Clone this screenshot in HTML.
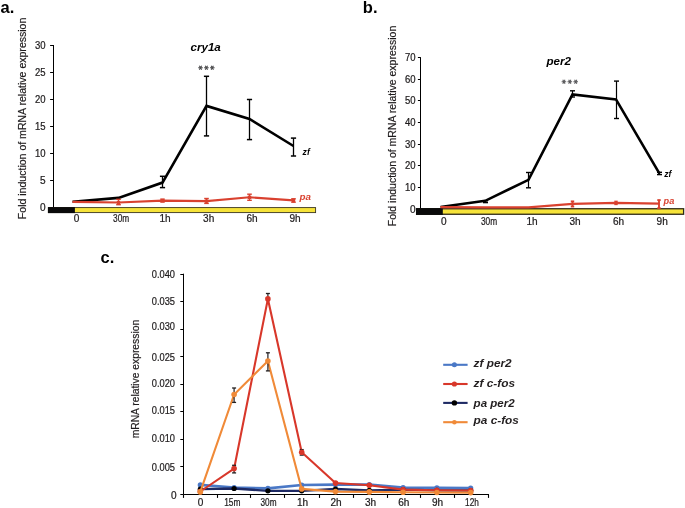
<!DOCTYPE html>
<html><head><meta charset="utf-8"><style>
html,body{margin:0;padding:0;background:#fff;}
body{width:685px;height:508px;overflow:hidden;}
svg{display:block;font-family:"Liberation Sans", sans-serif;will-change:transform;}
</style></head><body>
<svg width="685" height="508" viewBox="0 0 685 508">
<text x="0.5" y="12.7" font-size="16.5" text-anchor="start" font-weight="bold" fill="#000">a.</text>
<text transform="translate(26.2,118.4) rotate(-90)" font-size="10.05" text-anchor="middle" fill="#1e1b1c" stroke="#1e1b1c" stroke-width="0.18" textLength="201.5" lengthAdjust="spacingAndGlyphs">Fold induction of mRNA relative expression</text>
<line x1="53.50" y1="45.00" x2="53.50" y2="207.60" stroke="#000" stroke-width="1"/>
<line x1="50.10" y1="207.50" x2="53.50" y2="207.50" stroke="#000" stroke-width="1"/>
<text x="45.5" y="211.0" font-size="10.05" text-anchor="end" fill="#1e1b1c" stroke="#1e1b1c" stroke-width="0.22">0</text>
<line x1="50.10" y1="180.50" x2="53.50" y2="180.50" stroke="#000" stroke-width="1"/>
<text x="45.5" y="184.0" font-size="10.05" text-anchor="end" fill="#1e1b1c" stroke="#1e1b1c" stroke-width="0.22">5</text>
<line x1="50.10" y1="153.50" x2="53.50" y2="153.50" stroke="#000" stroke-width="1"/>
<text x="45.5" y="157.0" font-size="10.05" text-anchor="end" fill="#1e1b1c" stroke="#1e1b1c" stroke-width="0.22" textLength="10.6" lengthAdjust="spacingAndGlyphs">10</text>
<line x1="50.10" y1="126.50" x2="53.50" y2="126.50" stroke="#000" stroke-width="1"/>
<text x="45.5" y="130.0" font-size="10.05" text-anchor="end" fill="#1e1b1c" stroke="#1e1b1c" stroke-width="0.22" textLength="10.6" lengthAdjust="spacingAndGlyphs">15</text>
<line x1="50.10" y1="99.50" x2="53.50" y2="99.50" stroke="#000" stroke-width="1"/>
<text x="45.5" y="103.0" font-size="10.05" text-anchor="end" fill="#1e1b1c" stroke="#1e1b1c" stroke-width="0.22" textLength="10.6" lengthAdjust="spacingAndGlyphs">20</text>
<line x1="50.10" y1="72.50" x2="53.50" y2="72.50" stroke="#000" stroke-width="1"/>
<text x="45.5" y="76.0" font-size="10.05" text-anchor="end" fill="#1e1b1c" stroke="#1e1b1c" stroke-width="0.22" textLength="10.6" lengthAdjust="spacingAndGlyphs">25</text>
<line x1="50.10" y1="45.50" x2="53.50" y2="45.50" stroke="#000" stroke-width="1"/>
<text x="45.5" y="49.0" font-size="10.05" text-anchor="end" fill="#1e1b1c" stroke="#1e1b1c" stroke-width="0.22" textLength="10.6" lengthAdjust="spacingAndGlyphs">30</text>
<rect x="48.3" y="207.6" width="267.3" height="5.0" fill="#f6e33a" stroke="#3a3520" stroke-width="0.9"/>
<rect x="48" y="207.1" width="26.9" height="6" fill="#0a0a0a"/>
<text x="76.5" y="221.9" font-size="10.05" text-anchor="middle" fill="#1e1b1c" stroke="#1e1b1c" stroke-width="0.22">0</text>
<text x="121.1" y="221.9" font-size="10.05" text-anchor="middle" fill="#1e1b1c" stroke="#1e1b1c" stroke-width="0.22" textLength="16.2" lengthAdjust="spacingAndGlyphs">30m</text>
<text x="165.0" y="221.9" font-size="10.05" text-anchor="middle" fill="#1e1b1c" stroke="#1e1b1c" stroke-width="0.22">1h</text>
<text x="208.7" y="221.9" font-size="10.05" text-anchor="middle" fill="#1e1b1c" stroke="#1e1b1c" stroke-width="0.22">3h</text>
<text x="252.0" y="221.9" font-size="10.05" text-anchor="middle" fill="#1e1b1c" stroke="#1e1b1c" stroke-width="0.22">6h</text>
<text x="295.0" y="221.9" font-size="10.05" text-anchor="middle" fill="#1e1b1c" stroke="#1e1b1c" stroke-width="0.22">9h</text>
<polyline points="72.50,201.80 118.50,197.90 162.50,182.60 206.50,105.90 249.50,119.00 293.50,146.00" fill="none" stroke="#000" stroke-width="2.6" stroke-linejoin="miter" />
<polyline points="72.50,201.90 118.50,202.50 162.50,200.60 206.50,201.10 249.50,197.30 293.50,200.40" fill="none" stroke="#d9412f" stroke-width="2.1" stroke-linejoin="miter" />
<line x1="118.50" y1="199.30" x2="118.50" y2="204.70" stroke="#d9412f" stroke-width="1.3"/>
<line x1="116.20" y1="199.30" x2="120.80" y2="199.30" stroke="#d9412f" stroke-width="1.4"/>
<line x1="116.20" y1="204.70" x2="120.80" y2="204.70" stroke="#d9412f" stroke-width="1.4"/>
<line x1="206.50" y1="198.50" x2="206.50" y2="203.40" stroke="#d9412f" stroke-width="1.3"/>
<line x1="204.20" y1="198.50" x2="208.80" y2="198.50" stroke="#d9412f" stroke-width="1.4"/>
<line x1="204.20" y1="203.40" x2="208.80" y2="203.40" stroke="#d9412f" stroke-width="1.4"/>
<line x1="249.50" y1="194.20" x2="249.50" y2="200.30" stroke="#d9412f" stroke-width="1.3"/>
<line x1="247.20" y1="194.20" x2="251.80" y2="194.20" stroke="#d9412f" stroke-width="1.4"/>
<line x1="247.20" y1="200.30" x2="251.80" y2="200.30" stroke="#d9412f" stroke-width="1.4"/>
<line x1="293.50" y1="198.80" x2="293.50" y2="202.20" stroke="#d9412f" stroke-width="1.3"/>
<line x1="291.20" y1="198.80" x2="295.80" y2="198.80" stroke="#d9412f" stroke-width="1.4"/>
<line x1="291.20" y1="202.20" x2="295.80" y2="202.20" stroke="#d9412f" stroke-width="1.4"/>
<rect x="116.80" y="200.80" width="3.4" height="3.4" fill="#d9412f"/>
<rect x="160.30" y="198.40" width="4.4" height="4.4" fill="#d9412f"/>
<rect x="204.80" y="199.40" width="3.4" height="3.4" fill="#d9412f"/>
<rect x="247.80" y="195.60" width="3.4" height="3.4" fill="#d9412f"/>
<rect x="291.80" y="198.70" width="3.4" height="3.4" fill="#d9412f"/>
<line x1="162.50" y1="176.30" x2="162.50" y2="187.60" stroke="#000" stroke-width="1.3"/>
<line x1="159.90" y1="176.30" x2="165.10" y2="176.30" stroke="#000" stroke-width="1.5"/>
<line x1="159.90" y1="187.60" x2="165.10" y2="187.60" stroke="#000" stroke-width="1.5"/>
<line x1="206.50" y1="76.30" x2="206.50" y2="135.90" stroke="#000" stroke-width="1.3"/>
<line x1="203.90" y1="76.30" x2="209.10" y2="76.30" stroke="#000" stroke-width="1.5"/>
<line x1="203.90" y1="135.90" x2="209.10" y2="135.90" stroke="#000" stroke-width="1.5"/>
<line x1="249.50" y1="99.50" x2="249.50" y2="139.60" stroke="#000" stroke-width="1.3"/>
<line x1="246.90" y1="99.50" x2="252.10" y2="99.50" stroke="#000" stroke-width="1.5"/>
<line x1="246.90" y1="139.60" x2="252.10" y2="139.60" stroke="#000" stroke-width="1.5"/>
<line x1="293.50" y1="138.10" x2="293.50" y2="156.00" stroke="#000" stroke-width="1.3"/>
<line x1="290.90" y1="138.10" x2="296.10" y2="138.10" stroke="#000" stroke-width="1.5"/>
<line x1="290.90" y1="156.00" x2="296.10" y2="156.00" stroke="#000" stroke-width="1.5"/>
<text x="190.5" y="50.8" font-size="11.6" text-anchor="start" font-weight="bold" font-style="italic" fill="#000">cry1a</text>
<path d="M198.20,67.70L202.80,67.70M199.35,65.71L201.65,69.69M201.65,65.71L199.35,69.69" stroke="#4d4d4f" stroke-width="1.1" fill="none"/>
<path d="M204.10,67.70L208.70,67.70M205.25,65.71L207.55,69.69M207.55,65.71L205.25,69.69" stroke="#4d4d4f" stroke-width="1.1" fill="none"/>
<path d="M210.00,67.70L214.60,67.70M211.15,65.71L213.45,69.69M213.45,65.71L211.15,69.69" stroke="#4d4d4f" stroke-width="1.1" fill="none"/>
<text x="302.6" y="155.3" font-size="8.6" text-anchor="start" font-weight="bold" font-style="italic" fill="#000">zf</text>
<text x="299.5" y="199.6" font-size="9.8" text-anchor="start" font-weight="bold" font-style="italic" fill="#d9412f">pa</text>
<text x="362.8" y="12.8" font-size="16.5" text-anchor="start" font-weight="bold" fill="#000">b.</text>
<text transform="translate(395.6,126) rotate(-90)" font-size="10.05" text-anchor="middle" fill="#1e1b1c" stroke="#1e1b1c" stroke-width="0.18" textLength="200.5" lengthAdjust="spacingAndGlyphs">Fold induction of mRNA relative expression</text>
<line x1="420.50" y1="57.20" x2="420.50" y2="209.30" stroke="#000" stroke-width="1"/>
<line x1="417.90" y1="209.50" x2="420.50" y2="209.50" stroke="#000" stroke-width="1"/>
<text x="415.6" y="213.0" font-size="10.05" text-anchor="end" fill="#1e1b1c" stroke="#1e1b1c" stroke-width="0.22">0</text>
<line x1="417.90" y1="187.50" x2="420.50" y2="187.50" stroke="#000" stroke-width="1"/>
<text x="415.6" y="191.0" font-size="10.05" text-anchor="end" fill="#1e1b1c" stroke="#1e1b1c" stroke-width="0.22" textLength="10.6" lengthAdjust="spacingAndGlyphs">10</text>
<line x1="417.90" y1="165.50" x2="420.50" y2="165.50" stroke="#000" stroke-width="1"/>
<text x="415.6" y="169.0" font-size="10.05" text-anchor="end" fill="#1e1b1c" stroke="#1e1b1c" stroke-width="0.22" textLength="10.6" lengthAdjust="spacingAndGlyphs">20</text>
<line x1="417.90" y1="144.50" x2="420.50" y2="144.50" stroke="#000" stroke-width="1"/>
<text x="415.6" y="148.0" font-size="10.05" text-anchor="end" fill="#1e1b1c" stroke="#1e1b1c" stroke-width="0.22" textLength="10.6" lengthAdjust="spacingAndGlyphs">30</text>
<line x1="417.90" y1="122.50" x2="420.50" y2="122.50" stroke="#000" stroke-width="1"/>
<text x="415.6" y="126.0" font-size="10.05" text-anchor="end" fill="#1e1b1c" stroke="#1e1b1c" stroke-width="0.22" textLength="10.6" lengthAdjust="spacingAndGlyphs">40</text>
<line x1="417.90" y1="100.50" x2="420.50" y2="100.50" stroke="#000" stroke-width="1"/>
<text x="415.6" y="104.0" font-size="10.05" text-anchor="end" fill="#1e1b1c" stroke="#1e1b1c" stroke-width="0.22" textLength="10.6" lengthAdjust="spacingAndGlyphs">50</text>
<line x1="417.90" y1="79.50" x2="420.50" y2="79.50" stroke="#000" stroke-width="1"/>
<text x="415.6" y="83.0" font-size="10.05" text-anchor="end" fill="#1e1b1c" stroke="#1e1b1c" stroke-width="0.22" textLength="10.6" lengthAdjust="spacingAndGlyphs">60</text>
<line x1="417.90" y1="57.50" x2="420.50" y2="57.50" stroke="#000" stroke-width="1"/>
<text x="415.6" y="61.0" font-size="10.05" text-anchor="end" fill="#1e1b1c" stroke="#1e1b1c" stroke-width="0.22" textLength="10.6" lengthAdjust="spacingAndGlyphs">70</text>
<rect x="416.6" y="208.75" width="267.0" height="5.5" fill="#f6e33a" stroke="#2e2a18" stroke-width="1.3"/>
<rect x="416.0" y="208.1" width="26.8" height="6.8" fill="#0a0a0a"/>
<text x="443.8" y="224.6" font-size="10.05" text-anchor="middle" fill="#1e1b1c" stroke="#1e1b1c" stroke-width="0.22">0</text>
<text x="489.0" y="224.6" font-size="10.05" text-anchor="middle" fill="#1e1b1c" stroke="#1e1b1c" stroke-width="0.22" textLength="16.2" lengthAdjust="spacingAndGlyphs">30m</text>
<text x="532.0" y="224.6" font-size="10.05" text-anchor="middle" fill="#1e1b1c" stroke="#1e1b1c" stroke-width="0.22">1h</text>
<text x="575.0" y="224.6" font-size="10.05" text-anchor="middle" fill="#1e1b1c" stroke="#1e1b1c" stroke-width="0.22">3h</text>
<text x="618.6" y="224.6" font-size="10.05" text-anchor="middle" fill="#1e1b1c" stroke="#1e1b1c" stroke-width="0.22">6h</text>
<text x="662.2" y="224.6" font-size="10.05" text-anchor="middle" fill="#1e1b1c" stroke="#1e1b1c" stroke-width="0.22">9h</text>
<polyline points="440.50,207.00 485.20,200.80 528.50,179.80 572.50,94.40 616.00,99.40 659.50,173.60" fill="none" stroke="#000" stroke-width="2.6" stroke-linejoin="miter" />
<polyline points="440.50,207.20 485.20,207.30 528.50,207.30 572.50,203.80 616.00,202.90 659.50,203.60" fill="none" stroke="#d9412f" stroke-width="2.3" stroke-linejoin="miter" />
<line x1="572.50" y1="201.40" x2="572.50" y2="206.50" stroke="#d9412f" stroke-width="1.9"/>
<line x1="570.80" y1="201.40" x2="574.20" y2="201.40" stroke="#d9412f" stroke-width="1.9"/>
<line x1="570.80" y1="206.50" x2="574.20" y2="206.50" stroke="#d9412f" stroke-width="1.9"/>
<line x1="616.00" y1="201.60" x2="616.00" y2="204.20" stroke="#d9412f" stroke-width="1.9"/>
<line x1="614.30" y1="201.60" x2="617.70" y2="201.60" stroke="#d9412f" stroke-width="1.9"/>
<line x1="614.30" y1="204.20" x2="617.70" y2="204.20" stroke="#d9412f" stroke-width="1.9"/>
<line x1="659.00" y1="200.10" x2="659.00" y2="208.20" stroke="#d9412f" stroke-width="1.9"/>
<line x1="657.30" y1="200.10" x2="660.70" y2="200.10" stroke="#d9412f" stroke-width="1.9"/>
<line x1="657.30" y1="208.20" x2="660.70" y2="208.20" stroke="#d9412f" stroke-width="1.9"/>
<line x1="485.50" y1="200.80" x2="485.50" y2="202.60" stroke="#000" stroke-width="1.2"/>
<line x1="483.00" y1="200.80" x2="488.00" y2="200.80" stroke="#000" stroke-width="1.4"/>
<line x1="483.00" y1="202.60" x2="488.00" y2="202.60" stroke="#000" stroke-width="1.4"/>
<line x1="528.50" y1="172.50" x2="528.50" y2="187.80" stroke="#000" stroke-width="1.2"/>
<line x1="526.00" y1="172.50" x2="531.00" y2="172.50" stroke="#000" stroke-width="1.4"/>
<line x1="526.00" y1="187.80" x2="531.00" y2="187.80" stroke="#000" stroke-width="1.4"/>
<line x1="572.50" y1="90.80" x2="572.50" y2="97.00" stroke="#000" stroke-width="1.2"/>
<line x1="570.00" y1="90.80" x2="575.00" y2="90.80" stroke="#000" stroke-width="1.4"/>
<line x1="570.00" y1="97.00" x2="575.00" y2="97.00" stroke="#000" stroke-width="1.4"/>
<line x1="616.50" y1="81.10" x2="616.50" y2="118.50" stroke="#000" stroke-width="1.2"/>
<line x1="614.00" y1="81.10" x2="619.00" y2="81.10" stroke="#000" stroke-width="1.4"/>
<line x1="614.00" y1="118.50" x2="619.00" y2="118.50" stroke="#000" stroke-width="1.4"/>
<line x1="659.50" y1="172.30" x2="659.50" y2="174.60" stroke="#000" stroke-width="1.2"/>
<line x1="657.00" y1="172.30" x2="662.00" y2="172.30" stroke="#000" stroke-width="1.4"/>
<line x1="657.00" y1="174.60" x2="662.00" y2="174.60" stroke="#000" stroke-width="1.4"/>
<text x="546.5" y="64.6" font-size="11.6" text-anchor="start" font-weight="bold" font-style="italic" fill="#000">per2</text>
<path d="M561.60,81.80L566.20,81.80M562.75,79.81L565.05,83.79M565.05,79.81L562.75,83.79" stroke="#5a5a5c" stroke-width="1.05" fill="none"/>
<path d="M567.50,81.80L572.10,81.80M568.65,79.81L570.95,83.79M570.95,79.81L568.65,83.79" stroke="#5a5a5c" stroke-width="1.05" fill="none"/>
<path d="M573.40,81.80L578.00,81.80M574.55,79.81L576.85,83.79M576.85,79.81L574.55,83.79" stroke="#5a5a5c" stroke-width="1.05" fill="none"/>
<text x="664.2" y="176.8" font-size="8.6" text-anchor="start" font-weight="bold" font-style="italic" fill="#000">zf</text>
<text x="663.6" y="203.9" font-size="9.2" text-anchor="start" font-weight="bold" font-style="italic" fill="#d9412f">pa</text>
<text x="100.5" y="262.6" font-size="16.5" text-anchor="start" font-weight="bold" fill="#000">c.</text>
<text transform="translate(138.9,379.1) rotate(-90)" font-size="10.1" text-anchor="middle" fill="#1e1b1c" stroke="#1e1b1c" stroke-width="0.18" textLength="118.5" lengthAdjust="spacingAndGlyphs">mRNA relative expression</text>
<line x1="183.50" y1="273.70" x2="183.50" y2="494.50" stroke="#000" stroke-width="1"/>
<line x1="183.50" y1="494.50" x2="489.00" y2="494.50" stroke="#000" stroke-width="1"/>
<line x1="180.30" y1="494.50" x2="183.50" y2="494.50" stroke="#000" stroke-width="1"/>
<text x="176.6" y="498.6" font-size="10.05" text-anchor="end" fill="#1e1b1c" stroke="#1e1b1c" stroke-width="0.22">0</text>
<line x1="180.30" y1="466.50" x2="183.50" y2="466.50" stroke="#000" stroke-width="1"/>
<text x="175.0" y="471.4" font-size="10.05" text-anchor="end" fill="#1e1b1c" stroke="#1e1b1c" stroke-width="0.22" textLength="23.2" lengthAdjust="spacingAndGlyphs">0.005</text>
<line x1="180.30" y1="439.50" x2="183.50" y2="439.50" stroke="#000" stroke-width="1"/>
<text x="175.0" y="442.0" font-size="10.05" text-anchor="end" fill="#1e1b1c" stroke="#1e1b1c" stroke-width="0.22" textLength="23.2" lengthAdjust="spacingAndGlyphs">0.010</text>
<line x1="180.30" y1="411.50" x2="183.50" y2="411.50" stroke="#000" stroke-width="1"/>
<text x="175.0" y="414.0" font-size="10.05" text-anchor="end" fill="#1e1b1c" stroke="#1e1b1c" stroke-width="0.22" textLength="23.2" lengthAdjust="spacingAndGlyphs">0.015</text>
<line x1="180.30" y1="384.50" x2="183.50" y2="384.50" stroke="#000" stroke-width="1"/>
<text x="175.0" y="386.7" font-size="10.05" text-anchor="end" fill="#1e1b1c" stroke="#1e1b1c" stroke-width="0.22" textLength="23.2" lengthAdjust="spacingAndGlyphs">0.020</text>
<line x1="180.30" y1="356.50" x2="183.50" y2="356.50" stroke="#000" stroke-width="1"/>
<text x="175.0" y="360.5" font-size="10.05" text-anchor="end" fill="#1e1b1c" stroke="#1e1b1c" stroke-width="0.22" textLength="23.2" lengthAdjust="spacingAndGlyphs">0.025</text>
<line x1="180.30" y1="329.50" x2="183.50" y2="329.50" stroke="#000" stroke-width="1"/>
<text x="175.0" y="330.4" font-size="10.05" text-anchor="end" fill="#1e1b1c" stroke="#1e1b1c" stroke-width="0.22" textLength="23.2" lengthAdjust="spacingAndGlyphs">0.030</text>
<line x1="180.30" y1="301.50" x2="183.50" y2="301.50" stroke="#000" stroke-width="1"/>
<text x="175.0" y="304.9" font-size="10.05" text-anchor="end" fill="#1e1b1c" stroke="#1e1b1c" stroke-width="0.22" textLength="23.2" lengthAdjust="spacingAndGlyphs">0.035</text>
<line x1="180.30" y1="274.50" x2="183.50" y2="274.50" stroke="#000" stroke-width="1"/>
<text x="175.0" y="278.4" font-size="10.05" text-anchor="end" fill="#1e1b1c" stroke="#1e1b1c" stroke-width="0.22" textLength="23.2" lengthAdjust="spacingAndGlyphs">0.040</text>
<line x1="183.50" y1="494.50" x2="183.50" y2="497.90" stroke="#000" stroke-width="1.1"/>
<line x1="217.50" y1="494.50" x2="217.50" y2="497.90" stroke="#000" stroke-width="1.1"/>
<line x1="250.50" y1="494.50" x2="250.50" y2="497.90" stroke="#000" stroke-width="1.1"/>
<line x1="284.50" y1="494.50" x2="284.50" y2="497.90" stroke="#000" stroke-width="1.1"/>
<line x1="319.50" y1="494.50" x2="319.50" y2="497.90" stroke="#000" stroke-width="1.1"/>
<line x1="353.50" y1="494.50" x2="353.50" y2="497.90" stroke="#000" stroke-width="1.1"/>
<line x1="387.50" y1="494.50" x2="387.50" y2="497.90" stroke="#000" stroke-width="1.1"/>
<line x1="420.50" y1="494.50" x2="420.50" y2="497.90" stroke="#000" stroke-width="1.1"/>
<line x1="454.50" y1="494.50" x2="454.50" y2="497.90" stroke="#000" stroke-width="1.1"/>
<line x1="488.50" y1="494.50" x2="488.50" y2="497.90" stroke="#000" stroke-width="1.1"/>
<text x="200.5" y="506.4" font-size="10.05" text-anchor="middle" fill="#1e1b1c" stroke="#1e1b1c" stroke-width="0.22">0</text>
<text x="232.3" y="506.4" font-size="10.05" text-anchor="middle" fill="#1e1b1c" stroke="#1e1b1c" stroke-width="0.22" textLength="16.3" lengthAdjust="spacingAndGlyphs">15m</text>
<text x="268.5" y="506.4" font-size="10.05" text-anchor="middle" fill="#1e1b1c" stroke="#1e1b1c" stroke-width="0.22" textLength="16.0" lengthAdjust="spacingAndGlyphs">30m</text>
<text x="302.6" y="506.4" font-size="10.05" text-anchor="middle" fill="#1e1b1c" stroke="#1e1b1c" stroke-width="0.22">1h</text>
<text x="336.1" y="506.4" font-size="10.05" text-anchor="middle" fill="#1e1b1c" stroke="#1e1b1c" stroke-width="0.22">2h</text>
<text x="370.5" y="506.4" font-size="10.05" text-anchor="middle" fill="#1e1b1c" stroke="#1e1b1c" stroke-width="0.22">3h</text>
<text x="403.8" y="506.4" font-size="10.05" text-anchor="middle" fill="#1e1b1c" stroke="#1e1b1c" stroke-width="0.22">6h</text>
<text x="437.6" y="506.4" font-size="10.05" text-anchor="middle" fill="#1e1b1c" stroke="#1e1b1c" stroke-width="0.22">9h</text>
<text x="472.0" y="506.4" font-size="10.05" text-anchor="middle" fill="#1e1b1c" stroke="#1e1b1c" stroke-width="0.22" textLength="13.8" lengthAdjust="spacingAndGlyphs">12h</text>
<polyline points="200.30,484.90 234.10,487.50 267.90,488.40 301.70,485.00 335.50,484.70 369.30,484.50 403.10,487.50 436.90,487.90 470.70,488.10" fill="none" stroke="#4a78c6" stroke-width="2.7" stroke-linejoin="miter" />
<circle cx="200.30" cy="484.90" r="2.6" fill="#4a78c6"/>
<circle cx="234.10" cy="487.50" r="2.6" fill="#4a78c6"/>
<circle cx="267.90" cy="488.40" r="2.6" fill="#4a78c6"/>
<circle cx="301.70" cy="485.00" r="2.6" fill="#4a78c6"/>
<circle cx="335.50" cy="484.70" r="2.6" fill="#4a78c6"/>
<circle cx="369.30" cy="484.50" r="2.6" fill="#4a78c6"/>
<circle cx="403.10" cy="487.50" r="2.6" fill="#4a78c6"/>
<circle cx="436.90" cy="487.90" r="2.6" fill="#4a78c6"/>
<circle cx="470.70" cy="488.10" r="2.6" fill="#4a78c6"/>
<polyline points="200.30,489.20 234.10,488.50 267.90,490.80 301.70,490.80 335.50,489.00 369.30,490.30 403.10,489.60 436.90,490.30 470.70,490.50" fill="none" stroke="#1e2a64" stroke-width="2.3" stroke-linejoin="miter" />
<circle cx="200.30" cy="489.20" r="2.6" fill="#000"/>
<circle cx="234.10" cy="488.50" r="2.6" fill="#000"/>
<circle cx="267.90" cy="490.80" r="2.6" fill="#000"/>
<circle cx="301.70" cy="490.80" r="2.6" fill="#000"/>
<circle cx="335.50" cy="489.00" r="2.6" fill="#000"/>
<circle cx="369.30" cy="490.30" r="2.6" fill="#000"/>
<circle cx="403.10" cy="489.60" r="2.6" fill="#000"/>
<circle cx="436.90" cy="490.30" r="2.6" fill="#000"/>
<circle cx="470.70" cy="490.50" r="2.6" fill="#000"/>
<polyline points="200.30,491.50 234.10,468.60 267.90,298.90 301.70,452.30 335.50,483.10 369.30,485.30 403.10,489.60 436.90,490.30 470.70,490.50" fill="none" stroke="#d8372a" stroke-width="2.1" stroke-linejoin="miter" />
<line x1="234.10" y1="465.30" x2="234.10" y2="472.90" stroke="#231f20" stroke-width="1.2"/>
<line x1="232.10" y1="465.30" x2="236.10" y2="465.30" stroke="#231f20" stroke-width="1.3"/>
<line x1="232.10" y1="472.90" x2="236.10" y2="472.90" stroke="#231f20" stroke-width="1.3"/>
<line x1="267.90" y1="293.50" x2="267.90" y2="298.90" stroke="#231f20" stroke-width="1.2"/>
<line x1="265.90" y1="293.50" x2="269.90" y2="293.50" stroke="#231f20" stroke-width="1.3"/>
<line x1="301.70" y1="449.60" x2="301.70" y2="455.10" stroke="#231f20" stroke-width="1.2"/>
<line x1="299.70" y1="449.60" x2="303.70" y2="449.60" stroke="#231f20" stroke-width="1.3"/>
<line x1="299.70" y1="455.10" x2="303.70" y2="455.10" stroke="#231f20" stroke-width="1.3"/>
<circle cx="200.30" cy="491.50" r="2.8" fill="#d8372a"/>
<circle cx="234.10" cy="468.60" r="2.8" fill="#d8372a"/>
<circle cx="267.90" cy="298.90" r="2.8" fill="#d8372a"/>
<circle cx="301.70" cy="452.30" r="2.8" fill="#d8372a"/>
<circle cx="335.50" cy="483.10" r="2.8" fill="#d8372a"/>
<circle cx="369.30" cy="485.30" r="2.8" fill="#d8372a"/>
<circle cx="403.10" cy="489.60" r="2.8" fill="#d8372a"/>
<circle cx="436.90" cy="490.30" r="2.8" fill="#d8372a"/>
<circle cx="470.70" cy="490.50" r="2.8" fill="#d8372a"/>
<polyline points="200.30,491.90 234.10,394.50 267.90,361.00 301.70,488.90 335.50,491.60 369.30,491.90 403.10,492.20 436.90,492.50 470.70,492.60" fill="none" stroke="#f08a38" stroke-width="2.1" stroke-linejoin="miter" />
<line x1="234.10" y1="388.00" x2="234.10" y2="402.40" stroke="#231f20" stroke-width="1.2"/>
<line x1="232.10" y1="388.00" x2="236.10" y2="388.00" stroke="#231f20" stroke-width="1.3"/>
<line x1="232.10" y1="402.40" x2="236.10" y2="402.40" stroke="#231f20" stroke-width="1.3"/>
<line x1="267.90" y1="352.80" x2="267.90" y2="370.90" stroke="#231f20" stroke-width="1.2"/>
<line x1="265.90" y1="352.80" x2="269.90" y2="352.80" stroke="#231f20" stroke-width="1.3"/>
<line x1="265.90" y1="370.90" x2="269.90" y2="370.90" stroke="#231f20" stroke-width="1.3"/>
<circle cx="200.30" cy="491.90" r="2.8" fill="#f08a38"/>
<circle cx="234.10" cy="394.50" r="2.8" fill="#f08a38"/>
<circle cx="267.90" cy="361.00" r="2.8" fill="#f08a38"/>
<circle cx="301.70" cy="488.90" r="2.8" fill="#f08a38"/>
<circle cx="335.50" cy="491.60" r="2.8" fill="#f08a38"/>
<circle cx="369.30" cy="491.90" r="2.8" fill="#f08a38"/>
<circle cx="403.10" cy="492.20" r="2.8" fill="#f08a38"/>
<circle cx="436.90" cy="492.50" r="2.8" fill="#f08a38"/>
<circle cx="470.70" cy="492.60" r="2.8" fill="#f08a38"/>
<line x1="443.20" y1="364.80" x2="467.60" y2="364.80" stroke="#4a78c6" stroke-width="2.1"/>
<circle cx="454.4" cy="364.80" r="2.5" fill="#4a78c6"/>
<text x="473.6" y="366.8" font-size="11.2" text-anchor="start" font-weight="bold" font-style="italic" fill="#231f20" textLength="38.0" lengthAdjust="spacingAndGlyphs">zf per2</text>
<line x1="443.20" y1="384.00" x2="467.60" y2="384.00" stroke="#d8372a" stroke-width="2.1"/>
<circle cx="454.4" cy="384.00" r="2.6" fill="#d8372a"/>
<text x="473.6" y="387.3" font-size="11.2" text-anchor="start" font-weight="bold" font-style="italic" fill="#231f20" textLength="41.5" lengthAdjust="spacingAndGlyphs">zf c-fos</text>
<line x1="443.20" y1="402.90" x2="467.60" y2="402.90" stroke="#1e2a64" stroke-width="2.1"/>
<circle cx="454.4" cy="402.90" r="2.7" fill="#000"/>
<text x="473.6" y="406.7" font-size="11.2" text-anchor="start" font-weight="bold" font-style="italic" fill="#231f20" textLength="41.0" lengthAdjust="spacingAndGlyphs">pa per2</text>
<line x1="443.20" y1="422.20" x2="467.60" y2="422.20" stroke="#f08a38" stroke-width="2.1"/>
<circle cx="454.4" cy="422.20" r="2.3" fill="#f08a38"/>
<text x="473.6" y="424.0" font-size="11.2" text-anchor="start" font-weight="bold" font-style="italic" fill="#231f20" textLength="45.3" lengthAdjust="spacingAndGlyphs">pa c-fos</text>
</svg>
</body></html>
